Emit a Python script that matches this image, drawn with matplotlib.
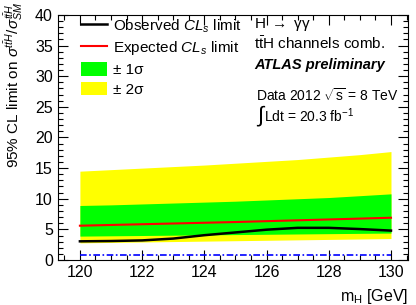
import matplotlib
matplotlib.use("Agg")
import matplotlib.pyplot as plt
from matplotlib.patches import Patch
from matplotlib.lines import Line2D
from matplotlib.ticker import MultipleLocator

plt.rcParams["font.family"] = ["Liberation Sans", "DejaVu Sans"]
plt.rcParams["mathtext.fontset"] = "custom"
plt.rcParams["mathtext.rm"] = "Liberation Sans"
plt.rcParams["mathtext.it"] = "Liberation Sans:italic"
plt.rcParams["mathtext.bf"] = "Liberation Sans:bold"

# limits vs Higgs mass (GeV)
mass = [120, 121, 122, 123, 124, 125, 126, 127, 128, 129, 130]
observed = [3.05, 3.1, 3.2, 3.5, 4.05, 4.5, 4.95, 5.25, 5.25, 5.05, 4.8]
expected = [5.6, 5.72, 5.84, 5.96, 6.08, 6.2, 6.34, 6.48, 6.62, 6.76, 6.9]
minus2 = [2.8, 2.87, 2.94, 3.01, 3.08, 3.15, 3.22, 3.29, 3.36, 3.43, 3.5]
minus1 = [3.9, 3.95, 4.0, 4.05, 4.1, 4.15, 4.2, 4.25, 4.3, 4.35, 4.4]
plus1 = [8.9, 9.0, 9.15, 9.3, 9.45, 9.6, 9.8, 10.0, 10.2, 10.5, 10.8]
plus2 = [14.5, 14.75, 15.0, 15.25, 15.5, 15.8, 16.1, 16.4, 16.8, 17.2, 17.7]
sm_level = 0.8

fig = plt.figure(figsize=(4.16, 3.05), dpi=100)
ax = fig.add_axes([0.139, 0.1475, 0.842, 0.8035])

ax.fill_between(mass, minus2, plus2, color="#ffff00", linewidth=0)
ax.fill_between(mass, minus1, plus1, color="#00ff00", linewidth=0)
ax.plot(mass, expected, color="#ff0000", linewidth=1.5)
ax.plot(mass, observed, color="black", linewidth=1.8)
ax.plot([mass[0], mass[-1]], [sm_level, sm_level], color="#0000ff",
        linewidth=1.2, linestyle=(0, (4, 1.5, 1, 1.5)))

ax.set_xlim(119.29, 130.55)
ax.set_ylim(0, 40)
ax.xaxis.set_major_locator(MultipleLocator(2))
ax.xaxis.set_minor_locator(MultipleLocator(0.5))
ax.yaxis.set_major_locator(MultipleLocator(5))
ax.yaxis.set_minor_locator(MultipleLocator(1))
ax.tick_params(which="both", direction="in", top=True, right=True,
               labelsize=11.5, width=0.8)
ax.tick_params(which="major", length=7)
ax.tick_params(which="minor", length=3.5)
for sp in ax.spines.values():
    sp.set_linewidth(0.8)

ax.set_xlabel("m$_\\mathrm{H}$ [GeV]", fontsize=11.5, loc="right", labelpad=5)
fig.text(0.032, 0.995,
         r"95% CL limit on $\sigma^{t\bar{t}H}/\sigma^{t\bar{t}H}_{SM}$",
         rotation=90, fontsize=11, ha="center", va="top")

handles = [
    Line2D([], [], color="black", linewidth=1.8),
    Line2D([], [], color="#ff0000", linewidth=1.5),
    Patch(facecolor="#00ff00", edgecolor="none"),
    Patch(facecolor="#ffff00", edgecolor="none"),
]
labels = [r"Observed $CL_s$ limit", r"Expected $CL_s$ limit",
          "± 1σ", "± 2σ"]
ax.legend(handles, labels, loc="upper left", bbox_to_anchor=(0.066, 0.99),
          frameon=False, fontsize=11, handlelength=1.7, handleheight=1.0,
          labelspacing=0.3, handletextpad=0.4, borderaxespad=0.0, borderpad=0.0)

ax.text(0.56, 0.959, r"H $\rightarrow$ γγ", transform=ax.transAxes,
        fontsize=11, va="center")
ax.text(0.56, 0.884, r"$\mathrm{t\bar{t}H}$ channels comb.", transform=ax.transAxes,
        fontsize=11, va="center")
ax.text(0.56, 0.796, "ATLAS preliminary", transform=ax.transAxes,
        fontsize=10.5, fontweight="bold", fontstyle="italic", va="center")
ax.text(0.565, 0.67, r"Data 2012 $\sqrt{\mathrm{s}}$ = 8 TeV", transform=ax.transAxes,
        fontsize=10, va="center")
ax.text(0.565, 0.585, r"$\int$", transform=ax.transAxes,
        fontsize=16, va="center")
ax.text(0.59, 0.59, r"Ldt = 20.3 fb$^{-1}$", transform=ax.transAxes,
        fontsize=10, va="center")

fig.savefig("out.png", dpi=100)
